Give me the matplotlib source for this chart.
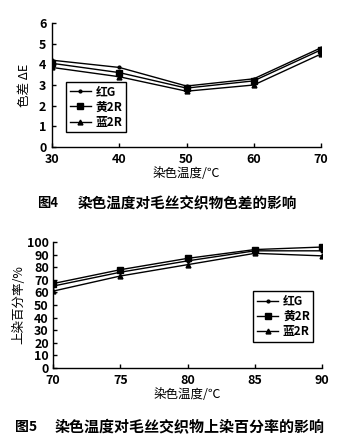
import matplotlib.pyplot as plt

plt.rcParams['font.family'] = ['Noto Sans CJK SC', 'DejaVu Sans']
plt.rcParams['font.weight'] = 'bold'

# 图4: 色差 vs 染色温度
temp4 = [30, 40, 50, 60, 70]
de_red = [4.2, 3.85, 2.95, 3.3, 4.8]
de_yellow = [4.05, 3.6, 2.85, 3.2, 4.7]
de_blue = [3.85, 3.4, 2.7, 3.0, 4.5]

# 图5: 上染百分率 vs 染色温度
temp5 = [70, 75, 80, 85, 90]
up_red = [65, 76, 85, 93, 93]
up_yellow = [67, 78, 87, 94, 96]
up_blue = [61, 73, 82, 91, 89]

names = ['红G', '黄2R', '蓝2R']
markers = ['.', 's', '^']
msizes = [4, 4, 3.5]

W, H = 345, 444
fig = plt.figure(figsize=(W / 100, H / 100), dpi=100)


def make_ax(l, r, t, b):
    return fig.add_axes([l / W, 1 - b / H, (r - l) / W, (b - t) / H])


def style(ax):
    for s in ['top', 'right']:
        ax.spines[s].set_visible(False)
    for s in ['left', 'bottom']:
        ax.spines[s].set_linewidth(1.0)
    ax.tick_params(direction='in', length=3, width=1, labelsize=9)
    ax.tick_params(axis='y', pad=4)
    ax.tick_params(axis='x', pad=4)


leg_kw = dict(fontsize=8.5, frameon=True, fancybox=False, edgecolor='black',
              framealpha=1, handlelength=1.8, borderpad=0.3,
              labelspacing=0.2, handletextpad=0.4)

ax1 = make_ax(52, 321, 23, 147)
for ys, m, ms, n in zip([de_red, de_yellow, de_blue], markers, msizes, names):
    ax1.plot(temp4, ys, color='black', lw=1.0, marker=m, ms=ms, label=n)
ax1.set_xlim(30, 70)
ax1.set_ylim(0, 6)
ax1.set_xticks(temp4)
ax1.set_yticks(range(0, 7))
style(ax1)
ax1.set_xlabel('染色温度/℃', fontsize=9, labelpad=1)
ax1.set_ylabel('色差 ΔE', fontsize=9, labelpad=6)
ax1.legend(loc='lower left', bbox_to_anchor=(0.03, 0.07), **leg_kw)
fig.text(37 / W, 1 - 203 / H, '图4', fontsize=9.5, va='center', ha='left')
fig.text(78 / W, 1 - 203 / H, '染色温度对毛丝交织物色差的影响', fontsize=10.5,
         va='center', ha='left')

ax2 = make_ax(53, 322, 242, 368)
for ys, m, ms, n in zip([up_red, up_yellow, up_blue], markers, msizes, names):
    ax2.plot(temp5, ys, color='black', lw=1.0, marker=m, ms=ms, label=n)
ax2.set_xlim(70, 90)
ax2.set_ylim(0, 100)
ax2.set_xticks(temp5)
ax2.set_yticks(range(0, 101, 10))
style(ax2)
ax2.tick_params(axis='y', pad=3)
ax2.set_xlabel('染色温度/℃', fontsize=9, labelpad=1)
ax2.set_ylabel('上染百分率/%', fontsize=9, labelpad=1)
ax2.legend(loc='lower right', bbox_to_anchor=(0.99, 0.16), **leg_kw)
fig.text(15 / W, 1 - 427 / H, '图5', fontsize=10, va='center', ha='left')
fig.text(55 / W, 1 - 427 / H, '染色温度对毛丝交织物上染百分率的影响', fontsize=10.8,
         va='center', ha='left')

fig.savefig('out.png', dpi=100)
